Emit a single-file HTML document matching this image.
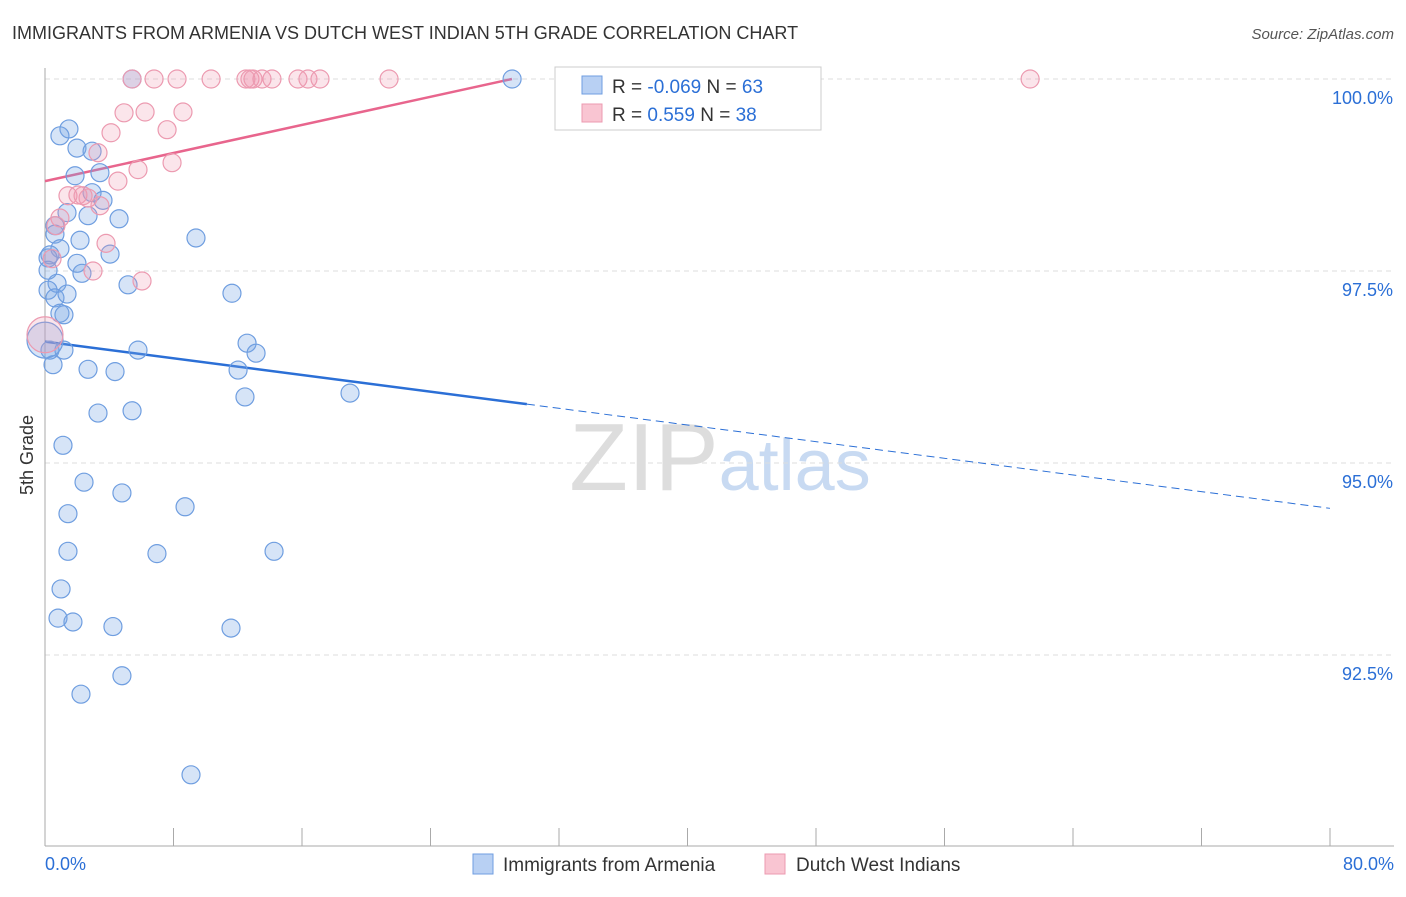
<!DOCTYPE html>
<html><head><meta charset="utf-8"><style>
body{margin:0;background:#fff;font-family:"Liberation Sans",sans-serif;}
svg text{font-family:"Liberation Sans",sans-serif;}
</style></head><body>
<svg id="chart" width="1406" height="892" xmlns="http://www.w3.org/2000/svg">
<text x="12" y="39" font-size="18" fill="#333">IMMIGRANTS FROM ARMENIA VS DUTCH WEST INDIAN 5TH GRADE CORRELATION CHART</text>
<text x="1394" y="39" font-size="15" fill="#555" font-style="italic" text-anchor="end">Source: ZipAtlas.com</text>
<text x="720" y="490" font-size="96" text-anchor="middle" fill="#ddd" font-family="Liberation Serif">ZIP<tspan fill="#c8daf2" font-family="Liberation Sans" font-size="72">atlas</tspan></text>
<text transform="translate(33,455) rotate(-90)" font-size="18" fill="#333" text-anchor="middle">5th Grade</text>
<g id="grid"></g><g id="axes"></g><g id="trend"></g><g id="pts"></g>
<g>
<rect x="555" y="67" width="266" height="63" fill="#fff" stroke="#ccc"/>
<rect x="582" y="76" width="20" height="18" fill="#b8d0f3" stroke="#6f9ee0"/>
<rect x="582" y="104" width="20" height="18" fill="#f9c5d2" stroke="#ec9ab0"/>
<text x="612" y="93" font-size="19" fill="#333">R = <tspan fill="#2b6fd6">-0.069</tspan>   N = <tspan fill="#2b6fd6">63</tspan></text>
<text x="612" y="121" font-size="19" fill="#333">R = <tspan fill="#2b6fd6"> 0.559</tspan>   N = <tspan fill="#2b6fd6">38</tspan></text>
</g>
<g>
<rect x="473" y="854" width="20" height="20" fill="#b8d0f3" stroke="#6f9ee0"/>
<text x="503" y="871" font-size="19" fill="#333">Immigrants from Armenia</text>
<rect x="765" y="854" width="20" height="20" fill="#f9c5d2" stroke="#ec9ab0"/>
<text x="796" y="871" font-size="19" fill="#333">Dutch West Indians</text>
</g>
</svg>
<script>
const yTicks=[100,97.5,95,92.5];
const yTickLabels=["100.0%","97.5%","95.0%","92.5%"];
const blueX=[5.42,29.08,1.49,0.93,1.99,2.93,3.42,1.87,2.93,3.61,1.37,2.68,4.61,0.62,0.62,9.40,2.18,0.93,0.31,4.05,0.19,1.99,2.30,0.19,0.75,5.17,0.19,11.64,0.62,1.37,0.93,1.18,12.58,0.31,1.18,5.79,13.14,0.50,12.02,2.68,4.36,12.45,18.99,5.42,3.30,1.12,2.43,4.79,8.72,1.43,1.43,6.97,14.26,1.00,0.81,1.74,4.23,11.58,4.79,2.24,9.09,0];
const blueY=[100,100,99.35,99.26,99.10,99.06,98.78,98.74,98.52,98.42,98.26,98.22,98.18,98.09,97.98,97.93,97.90,97.79,97.71,97.72,97.67,97.60,97.47,97.51,97.34,97.32,97.25,97.21,97.15,97.20,96.95,96.93,96.56,96.47,96.47,96.47,96.43,96.28,96.21,96.22,96.19,95.86,95.91,95.68,95.65,95.23,94.75,94.61,94.43,94.34,93.85,93.82,93.85,93.36,92.98,92.93,92.87,92.85,92.23,91.99,90.94,96.60];
const pinkX=[5.42,6.79,8.22,10.34,12.51,12.76,12.95,13.51,14.13,15.75,16.37,17.12,21.42,61.33,34.74,4.92,6.23,8.59,4.11,7.60,3.30,7.91,5.79,4.54,1.43,2.05,2.68,2.37,3.42,0.93,0.68,3.80,0.44,6.04,2.99,0];
const pinkY=[100,100,100,100,100,100,100,100,100,100,100,100,100,100,100,99.56,99.57,99.57,99.30,99.34,99.04,98.91,98.82,98.67,98.48,98.49,98.45,98.48,98.35,98.19,98.09,97.86,97.66,97.37,97.50,96.67];
const blueTrend=[96.58,94.41]; // y at x=0 and x=80
const pinkTrend=[98.67,100]; // y at x=0 and x=29.07
const pinkTrendEnd=29.07;
const NS="http://www.w3.org/2000/svg";
const X0=45,X1=1330,Y100=79,PX_PER=192/2.5;
const sx=v=>X0+(v/80)*(X1-X0);
const sy=v=>Y100+(100-v)*PX_PER;
function mk(tag,attrs,parent){const e=document.createElementNS(NS,tag);for(const k in attrs)e.setAttribute(k,attrs[k]);parent.appendChild(e);return e;}
const grid=document.getElementById('grid'),axes=document.getElementById('axes'),trend=document.getElementById('trend'),pts=document.getElementById('pts');
yTicks.forEach((t,i)=>{
 const l=mk('line',{x1:X0,x2:1394,y1:sy(t),y2:sy(t),stroke:'#ddd','stroke-dasharray':'5,4'},grid);
 
 
 const tx=mk('text',{x:1393,y:sy(t)+25,'font-size':18,fill:'#2b6fd6','text-anchor':'end'},axes);
 tx.textContent=yTickLabels[i];
 
 
});
const ax=mk('line',{x1:X0,x2:X0,y1:68,y2:846,stroke:'#aaa'},axes);


const bx=mk('line',{x1:X0,x2:1394,y1:846,y2:846,stroke:'#aaa'},axes);


for(let i=0;i<=10;i++){const v=i*8;const tk=mk('line',{x1:sx(v),x2:sx(v),y1:828,y2:846,stroke:'#aaa'},axes);
 
 }
const xl0=mk('text',{x:45,y:870,'font-size':18,fill:'#2b6fd6'},axes);xl0.textContent='0.0%';


const xl1=mk('text',{x:1394,y:870,'font-size':18,fill:'#2b6fd6','text-anchor':'end'},axes);xl1.textContent='80.0%';


function drawPts(xs,ys,fill,stroke,name){xs.forEach((x,i)=>{const r=(x===0)?18:9;
 const c=mk('circle',{cx:sx(x),cy:sy(ys[i]),r:r,fill:fill,stroke:stroke,'stroke-width':1.2},pts);
 
 });}
drawPts(blueX,blueY,'rgba(120,165,230,0.3)','#6f9ee0','point-armenia');
drawPts(pinkX,pinkY,'rgba(240,150,175,0.25)','#ec9ab0','point-dutch-west-indian');
const bAt=x=>blueTrend[0]+(blueTrend[1]-blueTrend[0])*x/80;
const bs=mk('line',{x1:sx(0),y1:sy(bAt(0)),x2:sx(30),y2:sy(bAt(30)),stroke:'#2b6fd6','stroke-width':2.5},trend);


const bd=mk('line',{x1:sx(30),y1:sy(bAt(30)),x2:sx(80),y2:sy(bAt(80)),stroke:'#2b6fd6','stroke-width':1,'stroke-dasharray':'8,5'},trend);


const ps=mk('line',{x1:sx(0),y1:sy(pinkTrend[0]),x2:sx(pinkTrendEnd),y2:sy(pinkTrend[1]),stroke:'#e8658d','stroke-width':2.5},trend);


</script>
</body></html>
